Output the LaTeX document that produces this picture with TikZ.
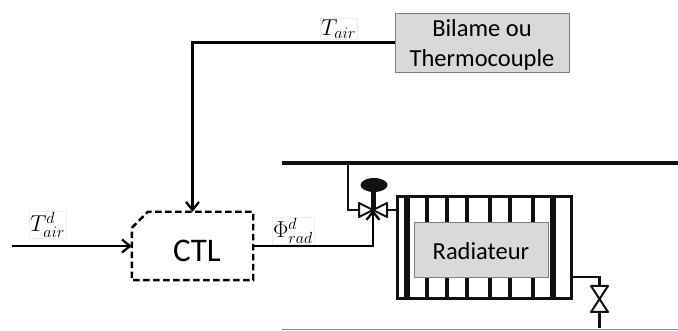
\RequirePackage{fix-cm}
\documentclass[tikz,border=0pt]{standalone}
\usepackage{fontspec}
\setmainfont{Carlito}
\usepackage{tikz}
\usetikzlibrary{arrows.meta,calc}
\definecolor{cBox}{HTML}{D9D9D9}
\definecolor{cEdge}{HTML}{7F7F7F}
\definecolor{cPipe}{HTML}{111111}
\tikzset{
  blk/.style  ={draw=cEdge,fill=cBox,line width=0.9pt,align=center,inner sep=0pt,
                font=\fontsize{24.5}{30}\selectfont},
  ctl/.style  ={inner sep=0pt,minimum width=121pt,minimum height=68pt},
  ctlline/.style ={draw=black,dash pattern=on 6.5pt off 3.5pt,line width=2.4pt},
  lbl/.style  ={font=\fontsize{23}{23}\selectfont,inner sep=1pt,draw=black!7,line width=0.5pt},
  sig/.style  ={-{Straight Barb[length=8pt,width=13pt,line width=2.3pt]},draw=black,line width=2.5pt},
  pipe/.style ={draw=cPipe,line width=2.8pt},
  thinbar/.style ={draw=cPipe,line width=4pt},
  fatbar/.style  ={draw=cPipe,line width=6pt},
  bowtie/.style  ={draw=cPipe,fill=white,line width=2pt,line join=round},
}
\begin{document}
\begin{tikzpicture}[x=1pt,y=-1pt]
\useasboundingbox (0,0) rectangle (678,331);

\node[blk,minimum width=174pt,minimum height=59pt,text depth=0pt] (sensor) at (482,42.5)
  {\rule{0pt}{4pt}Bilame ou\\Thermocouple};
\node[ctl] (ctl) at (192.5,246) {};
\node[font=\fontsize{33}{33}\selectfont] (ctlname) at (197,251) {CTL};
\draw[ctlline] ($(ctl.north west)+(0,16)$) -- ($(ctl.north west)+(16,0)$) -- (ctl.north east)
  -- (ctl.south east) -- (ctl.south west) -- cycle;
\node[draw=cPipe,line width=3pt,minimum width=174pt,minimum height=102pt,inner sep=0pt] (rad) at (484,248) {};

\foreach \x/\st in {407/fatbar,427/thinbar,447/thinbar,467/thinbar,490/thinbar,
                    510/thinbar,533/thinbar,553/fatbar}
  {\draw[\st] (\x,198) -- (\x,298);}

\node[blk,minimum width=134pt,minimum height=55pt] (heat) at (481,249.5) {\rule{0pt}{21pt}Radiateur};

\coordinate (mainL) at (282,163);
\coordinate (mainR) at (678,163);
\coordinate (tap) at (348,163);
\coordinate (vlv) at (373,210);
\coordinate (retL) at (282,330);
\coordinate (retR) at (678,330);
\coordinate (vlvb) at (599.5,299);
\coordinate (inL) at (12,246);

\draw[draw=cPipe,line width=3.2pt] (mainL) -- (mainR);
\draw[draw=black!45,line width=1pt] (retL) -- (retR);

\draw[pipe] (tap) |- (vlv);
\draw[pipe] (vlv) -- (vlv -| rad.west);
\draw[bowtie] (359,203) -- (vlv) -- (359,217) -- cycle;
\draw[bowtie] (387,203) -- (vlv) -- (387,217) -- cycle;
\draw[draw=cPipe,line width=5pt] (vlv) -- (373,185);
\fill[cPipe] (374,185) ellipse [x radius=13.5pt,y radius=7pt];

\draw[pipe] (rad.east |- 0,277) -| (vlvb);
\draw[pipe] (vlvb) -- (599.5,328);
\draw[bowtie] (591,286) -- (608,286) -- (vlvb) -- cycle;
\draw[bowtie] (591,312) -- (608,312) -- (vlvb) -- cycle;

\draw[sig] (sensor.west) -| (ctl.north);
\draw[sig] (inL) -- (ctl.west);
\draw[sig] (ctl.east) -| (vlv);

\node[lbl] (tair) at (338.5,29) {$T_{air}$};
\node[lbl] (tset) at (47.5,224.5) {$T_{air}^{d}$};
\node[lbl] (phi) at (293,231) {$\Phi_{rad}^{d}$};
\end{tikzpicture}
\end{document}
